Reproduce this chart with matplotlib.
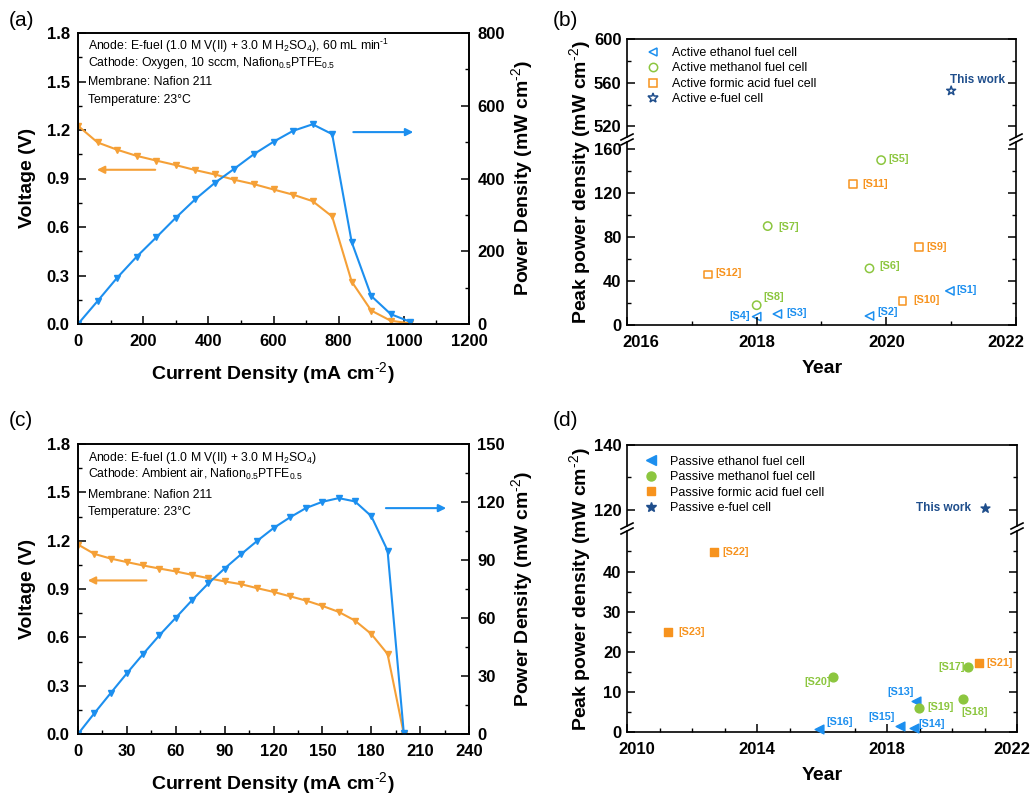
import numpy as np
import matplotlib
matplotlib.use('Agg')
import matplotlib.pyplot as plt
from matplotlib.ticker import MultipleLocator, FixedLocator
from matplotlib.lines import Line2D
from matplotlib.transforms import ScaledTranslation

plt.rcParams['font.family'] = ['Liberation Sans', 'DejaVu Sans']
plt.rcParams['mathtext.fontset'] = 'custom'
plt.rcParams['mathtext.rm'] = 'Liberation Sans'
plt.rcParams['mathtext.it'] = 'Liberation Sans:italic'
plt.rcParams['mathtext.bf'] = 'Liberation Sans:bold'
plt.rcParams['xtick.direction'] = 'in'
plt.rcParams['ytick.direction'] = 'in'
plt.rcParams['axes.linewidth'] = 1.2

ORANGE = '#F5A037'
BLUE = '#1C8FEF'
GREEN = '#8CC63F'
SQ_ORANGE = '#F7931E'
NAVY = '#1F4E8C'

# ---- (a) active e-fuel cell, oxygen cathode ----
cur_a = [0, 60, 120, 180, 240, 300, 360, 420, 480, 540, 600, 660, 720, 780, 840, 900, 960, 1020]
volt_a = [1.226, 1.123, 1.078, 1.040, 1.011, 0.983, 0.952, 0.925, 0.892, 0.865, 0.832, 0.800,
          0.760, 0.665, 0.262, 0.083, 0.020, 0.004]
pow_a = [0, 63, 127, 185, 238, 292, 343, 388, 427, 467, 501, 531, 549, 522, 225, 77, 27, 6]

# ---- (c) passive e-fuel cell, ambient air ----
cur_c = [0, 10, 20, 30, 40, 50, 60, 70, 80, 90, 100, 110, 120, 130, 140, 150, 160, 170, 180, 190, 200]
volt_c = [1.176, 1.118, 1.089, 1.067, 1.046, 1.027, 1.009, 0.988, 0.967, 0.947, 0.930, 0.905,
          0.882, 0.855, 0.828, 0.795, 0.758, 0.704, 0.621, 0.497, 0.0]
pow_c = [0, 10.7, 21.1, 31.4, 41.4, 51.1, 60.1, 69.2, 77.9, 85.6, 92.9, 99.9, 106.5, 112.0,
         116.9, 120.1, 122.0, 120.3, 112.7, 94.9, 0.3]

# ---- (b) active fuel cells ----
b_eth_year = [2018.0, 2018.32, 2019.74, 2020.98]
b_eth_pd = [7.6, 10.0, 8.2, 31.0]
b_eth_ref = ['[S4]', '[S3]', '[S2]', '[S1]']
b_meth_year = [2018.0, 2018.17, 2019.74, 2019.92]
b_meth_pd = [18.0, 90.0, 51.5, 150.0]
b_meth_ref = ['[S8]', '[S7]', '[S6]', '[S5]']
b_form_year = [2017.25, 2019.49, 2020.25, 2020.5]
b_form_pd = [46.0, 128.5, 22.0, 71.0]
b_form_ref = ['[S12]', '[S11]', '[S10]', '[S9]']
b_efuel_year = [2021.0]
b_efuel_pd = [552.6]

# ---- (d) passive fuel cells ----
d_eth_year = [2015.92, 2018.41, 2018.82, 2018.9]
d_eth_pd = [0.7, 1.6, 1.0, 7.7]
d_eth_ref = ['[S16]', '[S15]', '[S14]', '[S13]']
d_meth_year = [2016.33, 2018.99, 2020.33, 2020.5]
d_meth_pd = [13.7, 5.9, 8.3, 16.2]
d_meth_ref = ['[S20]', '[S19]', '[S18]', '[S17]']
d_form_year = [2011.27, 2012.68, 2020.83]
d_form_pd = [25.0, 44.9, 17.1]
d_form_ref = ['[S23]', '[S22]', '[S21]']
d_efuel_year = [2021.0]
d_efuel_pd = [120.6]

# label offsets in pixels (dx, dy, ha)
label_pos = {
    '[S4]': (-7, 1, 'right'), '[S3]': (9, 1, 'left'), '[S2]': (8, 4, 'left'), '[S1]': (7, 1, 'left'),
    '[S8]': (7, 8, 'left'), '[S7]': (11, -1, 'left'), '[S6]': (10, 2, 'left'), '[S5]': (7, 1, 'left'),
    '[S12]': (7, 1, 'left'), '[S11]': (9, 0, 'left'), '[S10]': (11, 1, 'left'), '[S9]': (8, 0, 'left'),
    '[S16]': (7, 7, 'left'), '[S15]': (-6, 9, 'right'), '[S14]': (5, 4, 'left'), '[S13]': (-2, 9, 'right'),
    '[S20]': (-2, -5, 'right'), '[S19]': (8, 1, 'left'), '[S18]': (-1, -13, 'left'), '[S17]': (-3, 0, 'right'),
    '[S21]': (7, 0, 'left'), '[S23]': (10, 0, 'left'), '[S22]': (8, 0, 'left'),
}

W, H = 1034, 798
fig = plt.figure(figsize=(W / 100, H / 100), dpi=100)


def rect(l, t, r, b):
    return [l / W, 1 - b / H, (r - l) / W, (b - t) / H]


def style_ticks(ax, labelsize=12):
    ax.tick_params(which='major', length=5.5, width=1.1, labelsize=labelsize)
    ax.tick_params(which='minor', length=3, width=1.0)
    for lab in ax.get_xticklabels() + ax.get_yticklabels():
        lab.set_fontweight('bold')


def polarization_panel(box, cur, volt, pw, xmax, xstep, pmax, pstep, lines, text_y, arrows):
    ax = fig.add_axes(rect(*box))
    ax.plot(cur, volt, color=ORANGE, lw=1.5, marker='v', ms=5)
    ax.set_xlim(0, xmax)
    ax.set_ylim(0, 1.8)
    ax.xaxis.set_major_locator(MultipleLocator(xstep))
    ax.xaxis.set_minor_locator(MultipleLocator(xstep / 2))
    ax.yaxis.set_major_locator(MultipleLocator(0.3))
    ax.yaxis.set_minor_locator(MultipleLocator(0.15))
    ax.yaxis.set_major_formatter(plt.FormatStrFormatter('%.1f'))
    ax.tick_params(which='both', top=False, right=False, pad=6)
    ax.tick_params(axis='x', which='major', pad=7)

    ax2 = ax.twinx()
    ax2.plot(cur, pw, color=BLUE, lw=1.5, marker='v', ms=5)
    ax2.set_ylim(0, pmax)
    ax2.yaxis.set_major_locator(MultipleLocator(pstep))
    ax2.yaxis.set_minor_locator(MultipleLocator(pstep / 2))
    ax2.tick_params(which='both', direction='in', pad=6)
    style_ticks(ax)
    style_ticks(ax2)

    for line, y in zip(lines, text_y):
        ax.text(0.026, y, line, transform=ax.transAxes, fontsize=8.8, va='center', ha='left')

    for (x0, x1, yv, c) in arrows:
        ax.annotate('', xy=(x1, yv), xytext=(x0, yv),
                    arrowprops=dict(arrowstyle='-|>', color=c, lw=1.5, mutation_scale=11,
                                    shrinkA=0, shrinkB=0))
    return ax, ax2


def broken_pair(box_top, box_bot, ylim_top, ylim_bot):
    at = fig.add_axes(rect(*box_top))
    ab = fig.add_axes(rect(*box_bot), sharex=at)
    at.set_ylim(*ylim_top)
    ab.set_ylim(*ylim_bot)
    at.spines['bottom'].set_visible(False)
    ab.spines['top'].set_visible(False)
    at.tick_params(which='both', bottom=False, labelbottom=False, top=False, right=True, pad=4)
    ab.tick_params(which='both', top=False, right=True, pad=4)
    ab.tick_params(axis='x', which='major', pad=7)
    # break marks
    l, r = box_top[0], box_top[2]
    yb = (box_top[3] + box_bot[1]) / 2
    for xs in (l, r):
        for dy in (-2.5, 2.5):
            x0, x1 = xs - 6, xs + 6
            y0, y1 = yb + dy + 3, yb + dy - 3
            fig.add_artist(Line2D([x0 / W, x1 / W], [1 - y0 / H, 1 - y1 / H],
                                  color='black', lw=1.2))
    return at, ab


def add_refs(ax, xs, ys, refs, color):
    for x, y, ref in zip(xs, ys, refs):
        dx, dy, ha = label_pos[ref]
        ax.annotate(ref, (x, y), xytext=(dx, dy), textcoords='offset pixels',
                    ha=ha, va='center', color=color, fontsize=7.8, fontweight='bold')


def nudge_end_labels(ax, first_px, last_px):
    # end year labels sit slightly inside the frame in the original
    fig.canvas.draw()
    lo, hi = ax.get_xlim()
    for t in ax.xaxis.get_major_ticks():
        loc = t.get_loc()
        if abs(loc - lo) < 1e-6:
            dx = first_px
        elif abs(loc - hi) < 1e-6:
            dx = last_px
        else:
            continue
        t.label1.set_transform(t.label1.get_transform() +
                               ScaledTranslation(dx / 100, 0, fig.dpi_scale_trans))


# ================= (a) =================
lines_a = [r'Anode: E-fuel (1.0 M V(II) + 3.0 M H$_2$SO$_4$), 60 mL min$^{\text{-1}}$',
           r'Cathode: Oxygen, 10 sccm, Nafion$_{0.5}$PTFE$_{0.5}$',
           'Membrane: Nafion 211',
           'Temperature: 23°C']
polarization_panel((78, 33, 469, 324), cur_a, volt_a, pow_a, 1200, 200, 800, 200,
                   lines_a, [0.955, 0.897, 0.832, 0.770],
                   [(237, 58, 0.954, ORANGE), (845, 1029, 1.187, BLUE)])

# ================= (c) =================
lines_c = [r'Anode: E-fuel (1.0 M V(II) + 3.0 M H$_2$SO$_4$)',
           r'Cathode: Ambient air, Nafion$_{0.5}$PTFE$_{0.5}$',
           'Membrane: Nafion 211',
           'Temperature: 23°C']
polarization_panel((78, 444, 469, 734), cur_c, volt_c, pow_c, 240, 30, 150, 30,
                   lines_c, [0.953, 0.894, 0.825, 0.766],
                   [(42, 6, 0.953, ORANGE), (189, 226, 1.402, BLUE)])

# ================= (b) =================
bt, bb = broken_pair((627, 39, 1016, 137), (627, 142, 1016, 325), (510.3, 600), (0, 166.5))
bb.scatter(b_eth_year, b_eth_pd, marker='<', s=36, facecolors='none', edgecolors=BLUE, linewidths=1.1)
bb.scatter(b_meth_year, b_meth_pd, marker='o', s=36, facecolors='none', edgecolors=GREEN, linewidths=1.1)
bb.scatter(b_form_year, b_form_pd, marker='s', s=30, facecolors='none', edgecolors=SQ_ORANGE, linewidths=1.1)
bt.scatter(b_efuel_year, b_efuel_pd, marker='*', s=45, facecolors='none', edgecolors=NAVY, linewidths=1.1)
add_refs(bb, b_eth_year, b_eth_pd, b_eth_ref, BLUE)
add_refs(bb, b_meth_year, b_meth_pd, b_meth_ref, GREEN)
add_refs(bb, b_form_year, b_form_pd, b_form_ref, SQ_ORANGE)
bt.annotate('This work', (b_efuel_year[0], b_efuel_pd[0]), xytext=(-1, 11), textcoords='offset pixels',
            ha='left', va='center', color=NAVY, fontsize=8.5, fontweight='bold')
bb.set_xlim(2016, 2022)
bb.xaxis.set_major_locator(MultipleLocator(2))
bb.xaxis.set_minor_locator(MultipleLocator(1))
bb.yaxis.set_major_locator(MultipleLocator(40))
bb.yaxis.set_minor_locator(MultipleLocator(20))
bt.yaxis.set_major_locator(MultipleLocator(40))
bt.yaxis.set_minor_locator(MultipleLocator(20))
style_ticks(bt)
style_ticks(bb)
handles_b = [
    Line2D([], [], ls='none', marker='<', ms=6, mfc='none', mec=BLUE, mew=1.1),
    Line2D([], [], ls='none', marker='o', ms=6, mfc='none', mec=GREEN, mew=1.1),
    Line2D([], [], ls='none', marker='s', ms=5.5, mfc='none', mec=SQ_ORANGE, mew=1.1),
    Line2D([], [], ls='none', marker='*', ms=7, mfc='none', mec=NAVY, mew=1.1),
]
bt.legend(handles_b, ['Active ethanol fuel cell', 'Active methanol fuel cell',
                      'Active formic acid fuel cell', 'Active e-fuel cell'],
          loc='upper left', bbox_to_anchor=(0.035, 0.97), frameon=False, fontsize=9,
          handletextpad=0.9, labelspacing=0.28, borderaxespad=0, handlelength=1.2)

# ================= (d) =================
dt, db = broken_pair((627, 445, 1017, 526), (627, 531, 1017, 732), (115.0, 140), (0, 50.1))
db.scatter(d_eth_year, d_eth_pd, marker='<', s=40, color=BLUE, clip_on=False, zorder=3)
db.scatter(d_meth_year, d_meth_pd, marker='o', s=40, color=GREEN, zorder=3)
db.scatter(d_form_year, d_form_pd, marker='s', s=34, color=SQ_ORANGE, zorder=3)
dt.scatter(d_efuel_year, d_efuel_pd, marker='*', s=45, color=NAVY, zorder=3)
add_refs(db, d_eth_year, d_eth_pd, d_eth_ref, BLUE)
add_refs(db, d_meth_year, d_meth_pd, d_meth_ref, GREEN)
add_refs(db, d_form_year, d_form_pd, d_form_ref, SQ_ORANGE)
dt.annotate('This work', (d_efuel_year[0], d_efuel_pd[0]), xytext=(-13, 0), textcoords='offset pixels',
            ha='right', va='center', color=NAVY, fontsize=8.5, fontweight='bold')
db.set_xlim(2010, 2022)
db.xaxis.set_major_locator(MultipleLocator(4, offset=2))
db.xaxis.set_minor_locator(MultipleLocator(1))
db.yaxis.set_major_locator(FixedLocator([0, 10, 20, 30, 40]))
db.yaxis.set_minor_locator(FixedLocator([5, 15, 25, 35, 45]))
dt.yaxis.set_major_locator(MultipleLocator(20))
dt.yaxis.set_minor_locator(MultipleLocator(10))
style_ticks(dt)
style_ticks(db)
handles_d = [
    Line2D([], [], ls='none', marker='<', ms=6.5, color=BLUE),
    Line2D([], [], ls='none', marker='o', ms=6.5, color=GREEN),
    Line2D([], [], ls='none', marker='s', ms=6, color=SQ_ORANGE),
    Line2D([], [], ls='none', marker='*', ms=7, color=NAVY),
]
dt.legend(handles_d, ['Passive ethanol fuel cell', 'Passive methanol fuel cell',
                      'Passive formic acid fuel cell', 'Passive e-fuel cell'],
          loc='upper left', bbox_to_anchor=(0.03, 0.93), frameon=False, fontsize=9,
          handletextpad=0.9, labelspacing=0.28, borderaxespad=0, handlelength=1.2)

# ================= axis labels & panel tags =================
lab_kw = dict(fontsize=14, fontweight='bold', ha='center', va='center')
cd_label = r'Current Density (mA cm$^{\text{-2}}$)'
pd_label = r'Power Density (mW cm$^{\text{-2}}$)'
peak_label = r'Peak power density (mW cm$^{\text{-2}}$)'
fig.text(273 / W, 1 - 373 / H, cd_label, **lab_kw)
fig.text(273 / W, 1 - 783 / H, cd_label, **lab_kw)
fig.text(27 / W, 1 - 178 / H, 'Voltage (V)', rotation=90, **lab_kw)
fig.text(27 / W, 1 - 589 / H, 'Voltage (V)', rotation=90, **lab_kw)
fig.text(522 / W, 1 - 178 / H, pd_label, rotation=90, **lab_kw)
fig.text(522 / W, 1 - 589 / H, pd_label, rotation=90, **lab_kw)
fig.text(822 / W, 1 - 369 / H, 'Year', **lab_kw)
fig.text(822 / W, 1 - 776 / H, 'Year', **lab_kw)
fig.text(580 / W, 1 - 182 / H, peak_label, rotation=90, **lab_kw)
fig.text(580 / W, 1 - 589 / H, peak_label, rotation=90, **lab_kw)

tag_kw = dict(fontsize=15, ha='left', va='center')
fig.text(9 / W, 1 - 20 / H, '(a)', **tag_kw)
fig.text(553 / W, 1 - 20 / H, '(b)', **tag_kw)
fig.text(9 / W, 1 - 420 / H, '(c)', **tag_kw)
fig.text(553 / W, 1 - 420 / H, '(d)', **tag_kw)

nudge_end_labels(bb, 14, -10)
nudge_end_labels(db, 10, -5)

fig.savefig('out.png', dpi=100)
